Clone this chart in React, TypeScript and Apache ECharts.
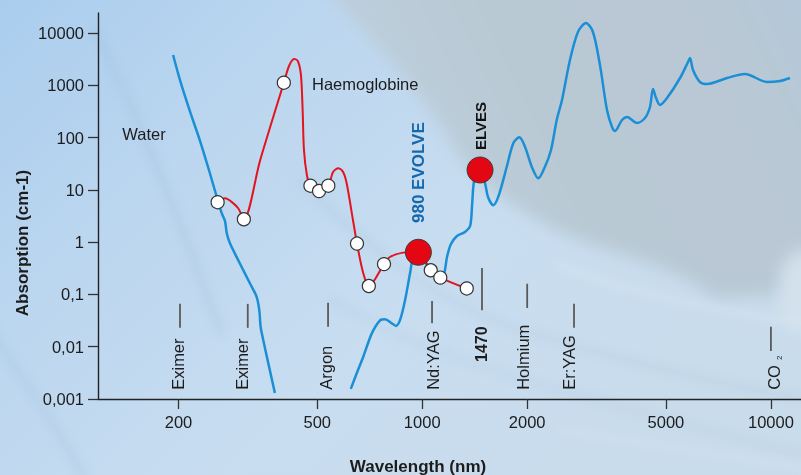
import React, { useEffect, useRef } from "react";
import * as echarts from "echarts";

const FONT = '"Liberation Sans", Arial, Helvetica, sans-serif';

// Axis ticks
const xTickValues = [200, 500, 1000, 2000, 5000, 10000];
const yTickExponents = [-3, -2, -1, 0, 1, 2, 3, 4];
const yTickLabels = ["0,001", "0,01", "0,1", "1", "10", "100", "1000", "10000"];

// Water absorption (UV branch)
const waterUvWl = [193, 202, 216, 231, 246, 259, 266, 272, 275, 281, 300, 321, 335, 341, 344, 350, 362, 378];
const waterUvAbs = [3800, 1260, 310, 83, 21, 6.4, 3.6, 2.5, 1.5, 0.95, 0.39, 0.16, 0.09, 0.05, 0.024, 0.0135, 0.0048, 0.0013];

// Water absorption (visible / IR branch)
const waterIrWl = [624, 649, 678, 717, 757, 782, 818, 841, 864, 893, 923, 943, 975, 1019, 1067, 1125, 1155, 1178, 1209, 1258, 1326, 1372, 1390, 1403, 1427, 1465, 1514, 1544, 1599, 1653, 1748, 1825, 1899, 1971, 2061, 2152, 2249, 2341, 2431, 2517, 2653, 2797, 2949, 3088, 3234, 3388, 3502, 3572, 3741, 3867, 4130, 4354, 4500, 4591, 4683, 4808, 5036, 5489, 5785, 5861, 5978, 6263, 6559, 7484, 8430, 9747, 10622, 11346];
const waterIrAbs = [0.00156, 0.0031, 0.0065, 0.018, 0.032, 0.0335, 0.028, 0.025, 0.0325, 0.078, 0.257, 0.527, 0.63, 0.417, 0.269, 0.206, 0.246, 0.52, 0.92, 1.31, 1.57, 2.04, 5.1, 12.4, 21, 24, 13.5, 7.3, 5.1, 7.4, 27.7, 78, 101, 67, 27.7, 16.6, 27.7, 58, 217, 523, 3050, 10450, 15500, 10450, 2440, 336, 159, 134, 217, 248, 190, 237, 384, 849, 571, 420, 571, 1378, 2790, 3320, 1960, 1155, 1058, 1378, 1644, 1155, 1208, 1378];

// Haemoglobine curve
const haemoWl = [259, 272, 284, 297, 308, 343, 401, 415, 429, 440, 449, 454, 458, 467, 478, 506, 538, 555, 575, 593, 607, 633, 650, 677, 703, 777, 808, 881, 973, 1058, 1127, 1342];
const haemoAbs = [5.8, 6.9, 5.9, 4.4, 2.74, 37, 1120, 2340, 3180, 2910, 1570, 337, 58, 19, 12, 9.5, 12, 22, 26, 22, 13.5, 2.65, 0.94, 0.26, 0.145, 0.38, 0.52, 0.63, 0.65, 0.29, 0.21, 0.13];

// Haemoglobine measured points (white markers)
const haemoMarkerWl = [259, 308, 401, 478, 506, 538, 650, 703, 777, 1058, 1127, 1342];
const haemoMarkerAbs = [5.8, 2.74, 1120, 12, 9.5, 12, 0.94, 0.145, 0.38, 0.29, 0.21, 0.13];

// Highlighted lasers (red dots)
const dotNames = ["980 EVOLVE", "ELVES"];
const dotWl = [975, 1465];
const dotAbs = [0.64, 24];
const dotLabelBaseAbs = [2.32, 58];

// Laser marks under the curves
const laserNames = ["Eximer", "Eximer", "Argon", "Nd:YAG", "1470", "Holmium", "Er:YAG", "CO"];
const laserSub = ["", "", "", "", "", "", "", "2"];
const laserWl = [202, 316, 537, 1067, 1484, 2000, 2725, 10000];
const laserTextWl = [199, 305, 530, 1074, 1484, 1950, 2640, 10200];
const laserLineTop = [0.066, 0.066, 0.069, 0.075, 0.32, 0.16, 0.066, 0.024];
const laserLineBottom = [0.023, 0.023, 0.024, 0.028, 0.05, 0.055, 0.023, 0.0083];
const laserTextBase = [0.0015, 0.0015, 0.0015, 0.0015, 0.0051, 0.0015, 0.0015, 0.0015];

// Curve names
const curveNames = ["Water", "Haemoglobine"];
const curveNameWl = [138, 483];
const curveNameAbs = [118, 1058];

const L = (v: number) => Math.log10(v);
const pairs = (xs: number[], ys: number[]) => xs.map((x, i) => [L(x), L(ys[i])]);

export default function App() {
  const ref = useRef<HTMLDivElement>(null);

  useEffect(() => {
    if (!ref.current) return;
    const chart = echarts.init(ref.current, undefined, { renderer: "svg" });

    const textColor = "#1c1c1c";

    const option: any = {
      animation: false,
      backgroundColor: "transparent",
      textStyle: { fontFamily: FONT },
      grid: { left: 98, right: 0, top: 13, bottom: 76, containLabel: false, outerBoundsMode: "none" },
      xAxis: {
        type: "value",
        min: 2.0702,
        max: 4.0863,
        axisLine: { show: true, onZero: false, lineStyle: { color: "#222", width: 1.4 } },
        axisTick: { show: true, length: 10, customValues: xTickValues.map(L), lineStyle: { color: "#333", width: 1.3 } },
        axisLabel: {
          customValues: xTickValues.map(L),
          formatter: (v: number) => String(Math.round(Math.pow(10, v))),
          fontSize: 16.5,
          color: textColor,
          fontFamily: FONT,
          margin: 14,
        },
        splitLine: { show: false },
      },
      yAxis: {
        type: "value",
        min: -3,
        max: 4.3825,
        axisLine: { show: true, onZero: false, lineStyle: { color: "#222", width: 1.4 } },
        axisTick: { show: true, length: 10, customValues: yTickExponents, lineStyle: { color: "#333", width: 1.3 } },
        axisLabel: {
          customValues: yTickExponents,
          formatter: (v: number) => yTickLabels[yTickExponents.indexOf(Math.round(v))] ?? "",
          fontSize: 16.5,
          color: textColor,
          fontFamily: FONT,
          margin: 14,
        },
        splitLine: { show: false },
      },
      graphic: [
        {
          type: "text",
          x: 22,
          y: 243,
          rotation: Math.PI / 2,
          style: {
            text: "Absorption (cm-1)",
            fontSize: 17,
            fontWeight: "bold",
            fontFamily: FONT,
            fill: textColor,
            align: "center",
            verticalAlign: "middle",
          },
        },
        {
          type: "text",
          x: 418,
          y: 466,
          style: {
            text: "Wavelength (nm)",
            fontSize: 17,
            fontWeight: "bold",
            fontFamily: FONT,
            fill: textColor,
            align: "center",
            verticalAlign: "middle",
          },
        },
      ],
      series: [
        {
          type: "custom",
          name: "lasers",
          coordinateSystem: "cartesian2d",
          encode: { x: [0, 4], y: [1, 2, 3] },
          data: laserWl.map((w, i) => [L(w), L(laserLineTop[i]), L(laserLineBottom[i]), L(laserTextBase[i]), L(laserTextWl[i])]),
          z: 1,
          renderItem: (params: any, api: any) => {
            const i = params.dataIndex;
            const x = api.value(0);
            const a = api.coord([x, api.value(1)]);
            const b = api.coord([x, api.value(2)]);
            const c = api.coord([api.value(4), api.value(3)]);
            const name = laserNames[i];
            const bold = name === "1470";
            const sub = laserSub[i];
            const children: any[] = [
              {
                type: "line",
                shape: { x1: a[0], y1: a[1], x2: b[0], y2: b[1] },
                style: { stroke: "#5a5a5a", lineWidth: 1.8 },
              },
              {
                type: "text",
                x: c[0],
                y: c[1],
                rotation: Math.PI / 2,
                style: {
                  text: name,
                  fontSize: bold ? 16 : 16.5,
                  fontWeight: bold ? "bold" : "normal",
                  fontFamily: FONT,
                  fill: textColor,
                  align: "left",
                  verticalAlign: "middle",
                },
              },
            ];
            if (sub) {
              children.push({
                type: "text",
                x: c[0] + 6,
                y: c[1] - 32,
                rotation: Math.PI / 2,
                style: {
                  text: sub,
                  fontSize: 8,
                  fontFamily: FONT,
                  fill: textColor,
                  align: "center",
                  verticalAlign: "middle",
                },
              });
            }
            return { type: "group", children };
          },
        },
        {
          type: "line",
          name: "Water UV",
          data: pairs(waterUvWl, waterUvAbs),
          smooth: 0.3,
          showSymbol: false,
          symbol: "none",
          lineStyle: { color: "#1b8fd6", width: 2.5 },
          z: 2,
        },
        {
          type: "line",
          name: "Water IR",
          data: pairs(waterIrWl, waterIrAbs),
          smooth: 0.3,
          showSymbol: false,
          symbol: "none",
          lineStyle: { color: "#1b8fd6", width: 2.5 },
          z: 2,
        },
        {
          type: "line",
          name: "Haemoglobine",
          data: pairs(haemoWl, haemoAbs),
          smooth: 0.3,
          showSymbol: false,
          symbol: "none",
          lineStyle: { color: "#e3141e", width: 2 },
          z: 3,
        },
        {
          type: "scatter",
          name: "Haemoglobine points",
          data: pairs(haemoMarkerWl, haemoMarkerAbs),
          symbol: "circle",
          symbolSize: 13,
          itemStyle: { color: "#ffffff", borderColor: "#333", borderWidth: 1.2, opacity: 1 },
          z: 4,
        },
        {
          type: "scatter",
          name: "Lasers",
          data: pairs(dotWl, dotAbs),
          symbol: "circle",
          symbolSize: 26,
          itemStyle: { color: "#e30613", borderColor: "#3a3a3a", borderWidth: 1, opacity: 1 },
          z: 5,
        },
        {
          type: "custom",
          name: "dot labels",
          coordinateSystem: "cartesian2d",
          encode: { x: 0, y: 1 },
          data: pairs(dotWl, dotLabelBaseAbs),
          z: 6,
          renderItem: (params: any, api: any) => {
            const i = params.dataIndex;
            const p = api.coord([api.value(0), api.value(1)]);
            const isEvolve = i === 0;
            return {
              type: "text",
              x: p[0],
              y: p[1],
              rotation: Math.PI / 2,
              style: {
                text: dotNames[i],
                fontSize: isEvolve ? 17 : 15,
                fontWeight: "bold",
                fontFamily: FONT,
                fill: isEvolve ? "#1668ad" : "#111111",
                align: "left",
                verticalAlign: "middle",
              },
            };
          },
        },
        {
          type: "custom",
          name: "curve names",
          coordinateSystem: "cartesian2d",
          encode: { x: 0, y: 1 },
          data: pairs(curveNameWl, curveNameAbs),
          z: 6,
          renderItem: (params: any, api: any) => {
            const i = params.dataIndex;
            const p = api.coord([api.value(0), api.value(1)]);
            return {
              type: "text",
              x: p[0],
              y: p[1],
              style: {
                text: curveNames[i],
                fontSize: 16.5,
                fontFamily: FONT,
                fill: textColor,
                align: "left",
                verticalAlign: "middle",
              },
            };
          },
        },
      ],
    };

    chart.setOption(option);
    return () => chart.dispose();
  }, []);

  return (
    <div style={{ position: "fixed", left: 0, top: 0, width: 801, height: 475, overflow: "hidden" }}>
      <svg width={801} height={475} style={{ position: "absolute", left: 0, top: 0 }}>
        <defs>
          <linearGradient id="bgGrad" x1="0" y1="0" x2="1" y2="0.6">
            <stop offset="0" stopColor="#aacdee" />
            <stop offset="0.3" stopColor="#bbd6ef" />
            <stop offset="0.65" stopColor="#c8ddf0" />
            <stop offset="1" stopColor="#c9dcec" />
          </linearGradient>
          <linearGradient id="grayGrad" x1="0" y1="0.3" x2="1" y2="0">
            <stop offset="0" stopColor="#bdd0de" />
            <stop offset="0.35" stopColor="#b9c9d4" />
            <stop offset="0.8" stopColor="#b8c8d4" />
            <stop offset="1" stopColor="#b1c8de" />
          </linearGradient>
          <filter id="blurBig" x="-20%" y="-20%" width="140%" height="140%">
            <feGaussianBlur stdDeviation="8" />
          </filter>
          <filter id="blurSoft" x="-20%" y="-20%" width="140%" height="140%">
            <feGaussianBlur stdDeviation="4" />
          </filter>
        </defs>
        <rect x={0} y={0} width={801} height={475} fill="url(#bgGrad)" />
        <path
          d="M320,-20 C370,40 420,90 455,150 C480,190 520,210 560,232 C620,258 670,262 715,298 L830,292 L830,-20 Z"
          fill="url(#grayGrad)"
          filter="url(#blurBig)"
        />
        <ellipse cx={802} cy={292} rx={24} ry={42} fill="#d3e1ec" filter="url(#blurBig)" />
        <g fill="none" filter="url(#blurSoft)" strokeLinecap="round">
          <path d="M95,30 C140,120 180,220 220,330" stroke="#8fb0cf" strokeWidth={7} opacity={0.2} />
          <path d="M-10,330 C30,390 60,430 85,480" stroke="#8fb0cf" strokeWidth={8} opacity={0.16} />
          <path d="M300,180 C360,240 430,300 520,330 C620,360 720,385 810,400" stroke="#8fb0cf" strokeWidth={7} opacity={0.14} />
          <path d="M330,300 C400,340 470,365 560,390 C650,415 740,440 810,455" stroke="#8fb0cf" strokeWidth={6} opacity={0.12} />
          <path d="M560,265 C620,290 690,305 810,325" stroke="#e2edf6" strokeWidth={6} opacity={0.35} />
          <path d="M560,430 C650,445 730,455 810,470" stroke="#e2edf6" strokeWidth={5} opacity={0.3} />
        </g>
      </svg>
      <div ref={ref} style={{ position: "absolute", left: 0, top: 0, width: 801, height: 475 }} />
    </div>
  );
}
